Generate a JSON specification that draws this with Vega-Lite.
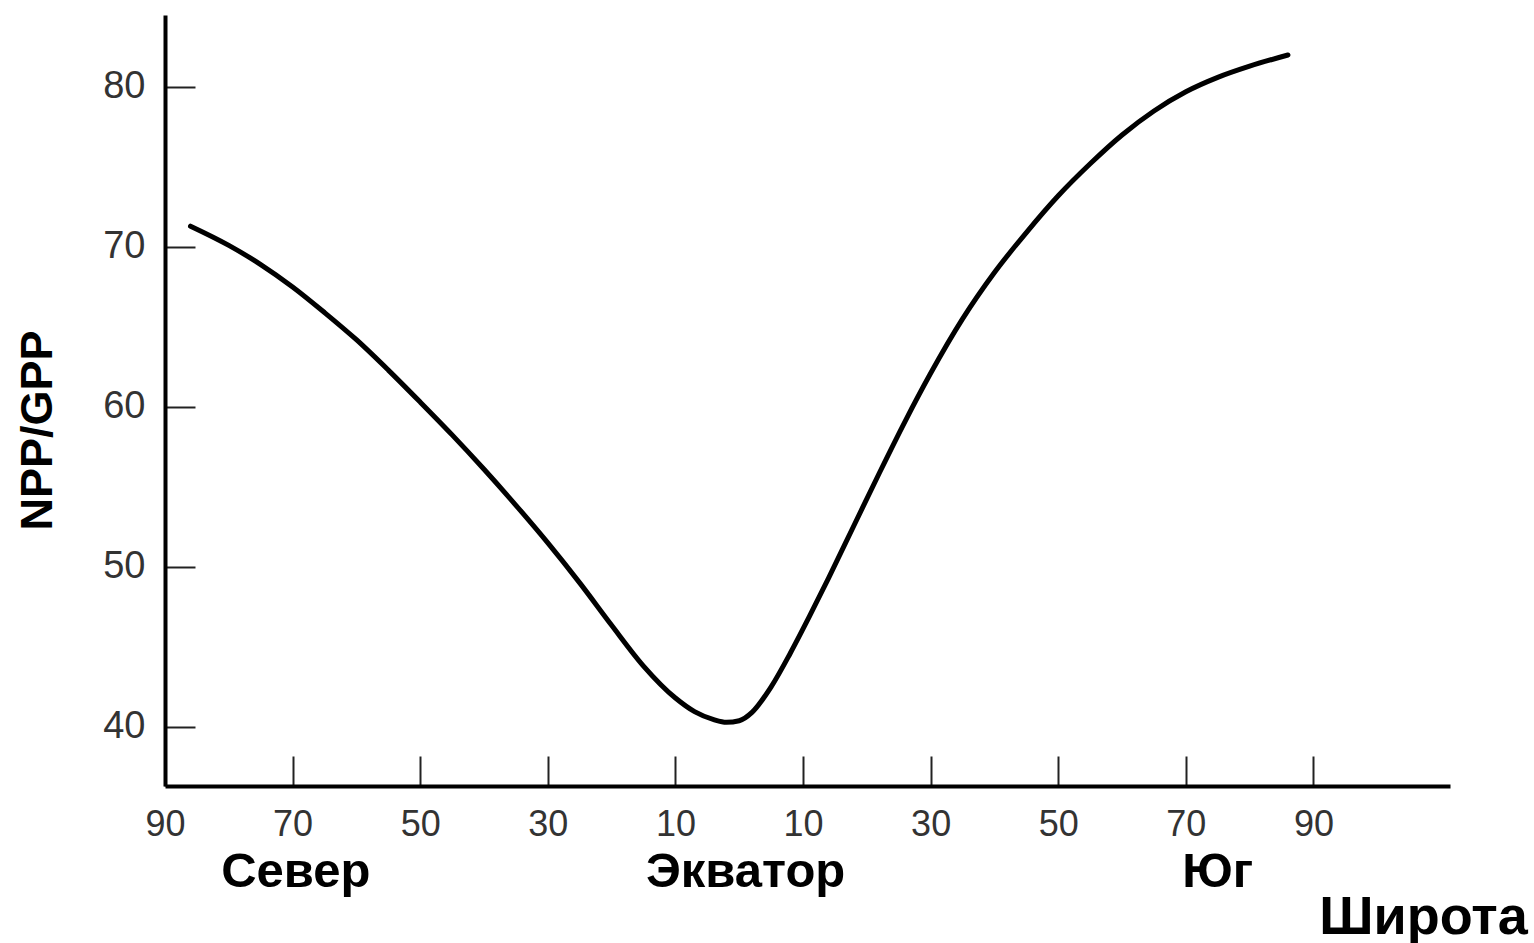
{
  "$schema": "https://vega.github.io/schema/vega-lite/v6.json",
  "width": 1285,
  "height": 771,
  "autosize": "none",
  "padding": {"left": 165, "top": 15, "right": 84, "bottom": 157},
  "background": "white",
  "config": {
    "view": {"stroke": null},
    "font": "Liberation Sans",
    "axis": {"grid": false}
  },
  "layer": [
    {
      "data": {
        "values": [
          {"lat": -86, "ratio": 71.3},
          {"lat": -80, "ratio": 70.1},
          {"lat": -75, "ratio": 68.9},
          {"lat": -70, "ratio": 67.5},
          {"lat": -65, "ratio": 65.9},
          {"lat": -60, "ratio": 64.2},
          {"lat": -55, "ratio": 62.3},
          {"lat": -50, "ratio": 60.3},
          {"lat": -45, "ratio": 58.25},
          {"lat": -40, "ratio": 56.1},
          {"lat": -35, "ratio": 53.85},
          {"lat": -30, "ratio": 51.5},
          {"lat": -25, "ratio": 49.0},
          {"lat": -20, "ratio": 46.35},
          {"lat": -15, "ratio": 43.8},
          {"lat": -10, "ratio": 41.8},
          {"lat": -7, "ratio": 40.95},
          {"lat": -4, "ratio": 40.45},
          {"lat": -2, "ratio": 40.28},
          {"lat": 0, "ratio": 40.38},
          {"lat": 2, "ratio": 40.9},
          {"lat": 5, "ratio": 42.5},
          {"lat": 8, "ratio": 44.6},
          {"lat": 11, "ratio": 46.9},
          {"lat": 14, "ratio": 49.3},
          {"lat": 18, "ratio": 52.6},
          {"lat": 22, "ratio": 55.9},
          {"lat": 26, "ratio": 59.1},
          {"lat": 30, "ratio": 62.1},
          {"lat": 35, "ratio": 65.5},
          {"lat": 40, "ratio": 68.4},
          {"lat": 45, "ratio": 70.9},
          {"lat": 50, "ratio": 73.2},
          {"lat": 55, "ratio": 75.2},
          {"lat": 60, "ratio": 77.0},
          {"lat": 65, "ratio": 78.5},
          {"lat": 70, "ratio": 79.7},
          {"lat": 75, "ratio": 80.6},
          {"lat": 80, "ratio": 81.3},
          {"lat": 86, "ratio": 82.0}
        ]
      },
      "mark": {"type": "line", "color": "black", "strokeWidth": 5, "interpolate": "monotone", "strokeCap": "round"},
      "encoding": {
        "x": {
          "field": "lat",
          "type": "quantitative",
          "scale": {"domain": [-90, 111.4], "nice": false, "zero": false},
          "axis": {
            "values": [-90, -70, -50, -30, -10, 10, 30, 50, 70, 90],
            "labelExpr": "abs(datum.value)",
            "domainColor": "black",
            "domainWidth": 4,
            "tickColor": "#222",
            "tickWidth": 2,
            "tickSize": -30,
            "labelPadding": 51,
            "labelFontSize": 36,
            "labelColor": "#333",
            "labelFlush": false,
            "title": "Широта",
            "titleFontSize": 54,
            "titleFontWeight": "bold",
            "titleColor": "black",
            "titleX": 1258,
            "titleY": 147,
            "titleAlign": "center",
            "titleBaseline": "alphabetic"
          }
        },
        "y": {
          "field": "ratio",
          "type": "quantitative",
          "scale": {"domain": [36.3, 84.5], "nice": false, "zero": false},
          "axis": {
            "values": [40, 50, 60, 70, 80],
            "domainColor": "black",
            "domainWidth": 4,
            "tickColor": "#222",
            "tickWidth": 2,
            "tickSize": -30,
            "labelPadding": 50,
            "labelFontSize": 38,
            "labelColor": "#333",
            "labelFlush": false,
            "title": "NPP/GPP",
            "titleFontSize": 45,
            "titleFontWeight": "bold",
            "titleColor": "black",
            "titleAngle": 270,
            "titleX": -128,
            "titleY": 415,
            "titleAlign": "center",
            "titleBaseline": "middle"
          }
        }
      }
    },
    {
      "data": {
        "values": [
          {"lat": -69.5, "label": "Север"},
          {"lat": 1, "label": "Экватор"},
          {"lat": 75, "label": "Юг"}
        ]
      },
      "mark": {"type": "text", "fontSize": 49, "fontWeight": "bold", "color": "black", "align": "center", "baseline": "alphabetic"},
      "encoding": {
        "x": {"field": "lat", "type": "quantitative"},
        "y": {"datum": 30},
        "text": {"field": "label"}
      }
    }
  ]
}
